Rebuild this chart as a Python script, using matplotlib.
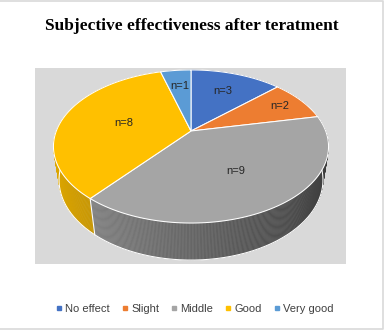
import numpy as np
import matplotlib
matplotlib.use("Agg")
import matplotlib.pyplot as plt
from matplotlib.patches import Polygon, Rectangle
from matplotlib.collections import PolyCollection
from matplotlib.lines import Line2D

categories = ["No effect", "Slight", "Middle", "Good", "Very good"]
counts = [3, 2, 9, 8, 1]
labels = ["n=3", "n=2", "n=9", "n=8", "n=1"]

colors = ["#4472C4", "#ED7D31", "#A5A5A5", "#FFC000", "#5B9BD5"]
label_r = [0.66, 0.8, 0.58, 0.52, 0.7]   # how far out each label sits

# 3d pie geometry (pixel space)
cx, cy = 191, 131
A = 134.7
s_el, c_el = 0.545, 0.838
D = 4.14
h = 0.308

def proj(phi, r=1.0, y=0.0):
    X = r * np.sin(phi)
    Z = r * np.cos(phi)
    w = 1 + (Z * c_el - y * s_el) / D
    return cx + A * X / w, cy - A * (y * c_el + Z * s_el) / w

def shade(col, phi):
    rgb = np.array(matplotlib.colors.to_rgb(col))
    f = 0.62 - 0.26 * np.sin(phi)
    return tuple(np.clip(rgb * f, 0, 1))

fig = plt.figure(figsize=(3.84, 3.3), dpi=100)
ax = fig.add_axes([0, 0, 1, 1])
ax.set_xlim(0, 384)
ax.set_ylim(330, 0)
ax.axis("off")

# outer border + plot area
ax.plot([0, 383, 383, 0], [1, 1, 329, 329], color="#d9d9d9", lw=1.2, zorder=0.5)
ax.add_patch(Rectangle((35, 68), 311, 196, facecolor="#d9d9d9", edgecolor="none", zorder=0.5))

fracs = np.array(counts) / sum(counts)
bounds = np.concatenate([[0], np.cumsum(fracs)]) * 2 * np.pi

# side walls, drawn back to front
strips = []
for i in range(len(counts)):
    a0, a1 = bounds[i], bounds[i + 1]
    n = max(int((a1 - a0) / (2 * np.pi) * 720), 2)
    ph = np.linspace(a0, a1, n + 1)
    for j in range(n):
        p0, p1 = ph[j], ph[j + 1]
        pts = [proj(p0), proj(p1), proj(p1, y=-h), proj(p0, y=-h)]
        pm = 0.5 * (p0 + p1)
        strips.append((np.cos(pm), pts, shade(colors[i], pm)))
strips.sort(key=lambda t: -t[0])
pc = PolyCollection([t[1] for t in strips], facecolors=[t[2] for t in strips],
                    edgecolors=[t[2] for t in strips], linewidths=0.3, zorder=1)
ax.add_collection(pc)

# white bottom rim and slice seams on the side
ph_all = np.linspace(0, 2 * np.pi, 400)
bx, by = proj(ph_all, y=-h)
ax.plot(bx, by, color="white", lw=0.75, zorder=1.5)
for b in bounds[:-1]:
    x0, y0 = proj(b)
    x1, y1 = proj(b, y=-h)
    ax.plot([x0, x1], [y0, y1], color="white", lw=0.75, zorder=1.5)

# top faces
for i in range(len(counts)):
    ph = np.linspace(bounds[i], bounds[i + 1], 100)
    xs, ys = proj(ph)
    pts = [(cx, cy)] + list(zip(xs, ys))
    ax.add_patch(Polygon(pts, closed=True, facecolor=colors[i], edgecolor="white", lw=0.75, zorder=2))

# data labels
for i, lab in enumerate(labels):
    mid = 0.5 * (bounds[i] + bounds[i + 1])
    lx, ly = proj(mid, r=label_r[i])
    ax.text(lx, ly, lab, ha="center", va="center", fontsize=8,
            family="Liberation Sans", color="#262626", zorder=3)

ax.text(192, 30, "Subjective effectiveness after teratment", ha="center", va="baseline",
        fontsize=12.5, fontweight="bold", family="Liberation Serif", color="black")

handles = [Line2D([], [], marker="s", linestyle="none", markersize=3, color=c) for c in colors]
ax.legend(handles, categories, loc="center", bbox_to_anchor=(194.5, 309), bbox_transform=ax.transData,
          ncol=5, frameon=False, handlelength=0.6, handletextpad=0.25, columnspacing=1.05,
          prop={"family": "Liberation Sans", "size": 8}, labelcolor="#404040", borderpad=0)

fig.savefig("out.png", dpi=100)
